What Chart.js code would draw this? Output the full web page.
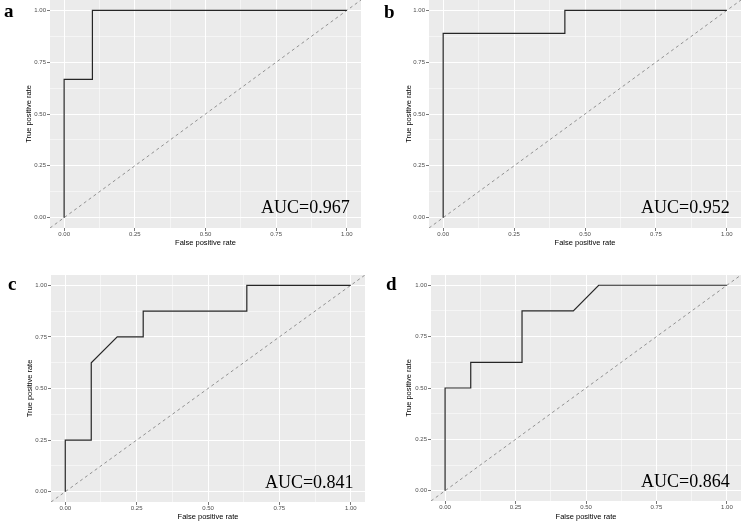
<!DOCTYPE html>
<html>
<head>
<meta charset="utf-8">
<script src="https://cdn.jsdelivr.net/npm/chart.js@4.4.1/dist/chart.umd.min.js"></script>
<style>
  html, body { margin: 0; padding: 0; background: #fff; }
  #wrap { position: relative; width: 742px; height: 522px; overflow: hidden; }
  canvas { position: absolute; }
  .tag { position: absolute; font: bold 19px "Liberation Serif", serif; line-height: 19px; color: #000; }
</style>
</head>
<body>
<div id="wrap">
  <canvas id="cA" width="371" height="261" style="left:0;top:0"></canvas>
  <canvas id="cB" width="371" height="261" style="left:371px;top:0"></canvas>
  <canvas id="cC" width="371" height="261" style="left:0;top:261px"></canvas>
  <canvas id="cD" width="371" height="261" style="left:371px;top:261px"></canvas>
  <div class="tag" style="left:4px;top:1px">a</div>
  <div class="tag" style="left:384px;top:2px">b</div>
  <div class="tag" style="left:8px;top:274px">c</div>
  <div class="tag" style="left:386px;top:274px">d</div>
</div>
<script>
// ticks (major labelled, minor only as grid)
const tickVals = [0, 0.25, 0.5, 0.75, 1];
const minorVals = [0.125, 0.375, 0.625, 0.875];
const axisMin = -0.05, axisMax = 1.05;

// ROC curves
const fprA = [0, 0, 0.1, 0.1, 1];
const tprA = [0, 0.667, 0.667, 1, 1];
const fprB = [0, 0, 0.429, 0.429, 1];
const tprB = [0, 0.889, 0.889, 1, 1];
const fprC = [0, 0, 0.091, 0.091, 0.182, 0.273, 0.273, 0.636, 0.636, 1];
const tprC = [0, 0.25, 0.25, 0.625, 0.75, 0.75, 0.875, 0.875, 1, 1];
const fprD = [0, 0, 0.091, 0.091, 0.273, 0.273, 0.455, 0.545, 1];
const tprD = [0, 0.5, 0.5, 0.625, 0.625, 0.875, 0.875, 1, 1];
const aucLabels = ['AUC=0.967', 'AUC=0.952', 'AUC=0.841', 'AUC=0.864'];

const isMajor = v => tickVals.some(t => Math.abs(t - v) < 1e-9);

// grey panel behind the grid
const panelBg = {
  id: 'panelBg',
  beforeDraw(chart) {
    const { ctx, chartArea: a } = chart;
    ctx.save();
    ctx.fillStyle = '#EBEBEB';
    ctx.fillRect(a.left, a.top, a.right - a.left, a.bottom - a.top);
    ctx.restore();
  }
};

// AUC text in the lower right corner
const aucLabel = {
  id: 'aucLabel',
  afterDatasetsDraw(chart, args, opts) {
    const { ctx, scales: { x, y } } = chart;
    ctx.save();
    ctx.font = '18px "Liberation Serif", "Times New Roman", serif';
    ctx.fillStyle = '#000';
    ctx.textAlign = 'right';
    ctx.textBaseline = 'alphabetic';
    ctx.fillText(opts.text, x.getPixelForValue(1.01), y.getPixelForValue(0.02));
    ctx.restore();
  }
};

function toPoints(xs, ys) {
  return xs.map((v, i) => ({ x: v, y: ys[i] }));
}

function axis(title, pos, size, titlePad) {
  return {
    type: 'linear',
    position: pos,
    min: axisMin,
    max: axisMax,
    afterBuildTicks: s => {
      s.ticks = tickVals.concat(minorVals).sort((p, q) => p - q).map(v => ({ value: v }));
    },
    afterFit: s => {
      if (pos === 'left') s.width = size; else s.height = size;
      s.paddingTop = 0; s.paddingBottom = 0; s.paddingLeft = 0; s.paddingRight = 0;
    },
    border: { display: false },
    grid: {
      color: '#FFFFFF',
      lineWidth: c => (c.tick && isMajor(c.tick.value)) ? 1 : 0.5,
      drawTicks: true,
      tickLength: 3,
      tickColor: c => (c.tick && isMajor(c.tick.value)) ? '#555' : 'rgba(0,0,0,0)',
      tickWidth: 0.8
    },
    ticks: {
      autoSkip: false,
      maxRotation: 0,
      padding: pos === 'left' ? 1 : 0,
      color: '#4D4D4D',
      font: { family: '"Liberation Sans", Arial, sans-serif', size: 6 },
      callback: v => isMajor(v) ? v.toFixed(2) : ''
    },
    title: {
      display: true,
      text: title,
      color: '#000',
      font: { family: '"Liberation Sans", Arial, sans-serif', size: 7.5, lineHeight: 1.2 },
      padding: pos === 'left' ? { top: titlePad, bottom: 0 } : { top: 0, bottom: titlePad }
    }
  };
}

function drawPanel(id, fpr, tpr, label, lay) {
  new Chart(document.getElementById(id), {
    type: 'scatter',
    data: {
      datasets: [
        {
          data: toPoints(fpr, tpr),
          showLine: true,
          borderColor: '#262626',
          borderWidth: 1.2,
          pointRadius: 0,
          tension: 0,
          borderJoinStyle: 'miter'
        },
        {
          data: toPoints([axisMin, axisMax], [axisMin, axisMax]),
          showLine: true,
          borderColor: '#7a7a7a',
          borderWidth: 0.8,
          borderDash: [3, 3],
          pointRadius: 0
        }
      ]
    },
    options: {
      responsive: false,
      animation: false,
      devicePixelRatio: 1,
      layout: { padding: { left: 0, top: lay.padTop, right: lay.padRight, bottom: 0 } },
      plugins: {
        legend: { display: false },
        tooltip: { enabled: false },
        aucLabel: { text: label }
      },
      scales: {
        x: axis('False positive rate', 'bottom', lay.xH, lay.xTitlePad),
        y: axis('True positive rate', 'left', lay.yW, lay.yTitlePad)
      }
    },
    plugins: [panelBg, aucLabel]
  });
}

drawPanel('cA', fprA, tprA, aucLabels[0], { yW: 50, xH: 33, padTop: 0, padRight: 10, yTitlePad: 24.8, xTitlePad: 13.8 });
drawPanel('cB', fprB, tprB, aucLabels[1], { yW: 58, xH: 33, padTop: 0, padRight: 1, yTitlePad: 33.5, xTitlePad: 13.8 });
drawPanel('cC', fprC, tprC, aucLabels[2], { yW: 51, xH: 20, padTop: 14, padRight: 6, yTitlePad: 25.5, xTitlePad: 0.8 });
drawPanel('cD', fprD, tprD, aucLabels[3], { yW: 60, xH: 21, padTop: 14, padRight: 1, yTitlePad: 33.8, xTitlePad: 0.8 });
</script>
</body>
</html>
